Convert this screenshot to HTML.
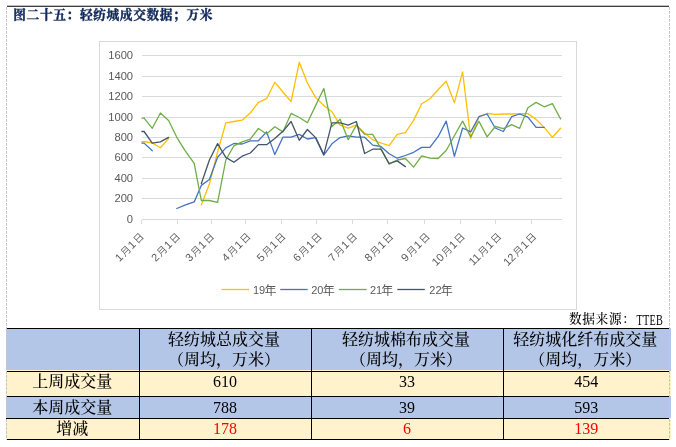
<!DOCTYPE html>
<html lang="zh-CN"><head><meta charset="utf-8"><title>图二十五：轻纺城成交数据；万米</title>
<style>
html,body{margin:0;padding:0;background:#fff;}
body{width:676px;height:447px;position:relative;overflow:hidden;font-family:"Liberation Serif","Noto Serif CJK SC",serif;}
.abs{position:absolute;}
#ldash{left:6px;top:7px;width:1px;height:433px;z-index:5;background:repeating-linear-gradient(to bottom,#c6c6c6 0,#c6c6c6 3px,transparent 3px,transparent 4px);}
#rdash{left:669px;top:7px;width:1px;height:433px;z-index:5;background:repeating-linear-gradient(to bottom,#c6c6c6 0,#c6c6c6 3px,transparent 3px,transparent 4px);}
#rfill{left:668px;top:328px;width:3px;height:112px;background:linear-gradient(to bottom,#B4C6E7 0,#B4C6E7 43px,#FFF2CC 43px,#FFF2CC 68px,#B4C6E7 68px,#B4C6E7 90px,#FFF2CC 90px,#FFF2CC 112px);}
#title{left:13.3px;top:5.5px;font-size:12.7px;letter-spacing:0.63px;line-height:18px;font-weight:bold;color:#10295a;-webkit-text-stroke:0.4px #10295a;white-space:nowrap;font-family:"Liberation Serif","Noto Serif CJK SC",serif;}
#src{right:13px;top:310.8px;font-size:12.7px;letter-spacing:0.63px;line-height:18px;color:#000;white-space:nowrap;font-family:"Liberation Mono","Noto Serif CJK SC",serif;font-weight:500;}
#src .lt{display:inline-block;position:relative;top:2.5px;font-family:"Liberation Serif",serif;font-weight:400;font-size:15.5px;line-height:14px;transform:scaleX(0.66);transform-origin:100% 50%;margin-left:-12.5px;letter-spacing:0.3px;}
svg{position:absolute;left:0;top:0;}
svg text{font-family:"Liberation Sans","Noto Sans CJK SC",sans-serif;font-size:11.2px;fill:#595959;}
.xl .d{font-size:11px;} .xl .c{font-size:10px;font-weight:350;}
.lg text{font-size:11px;} .lg .c{font-size:12px;}
table{position:absolute;left:6px;top:328px;border-collapse:collapse;table-layout:fixed;width:663px;font-size:16px;color:#000;}
td{padding:0;text-align:center;vertical-align:middle;border:1px solid #000;border-width:1px 1px 1px 0;line-height:20px;font-family:"Liberation Serif","Noto Serif CJK SC",serif;font-weight:500;overflow:hidden;white-space:nowrap;}
td:last-child{border-right:0;}
td:first-child{border-left:0;}
tr.b td{background:#B4C6E7;}
tr.h td{padding-right:2px;position:relative;}
tr.h td::after{content:"";position:absolute;left:0;right:0;bottom:0;height:1px;background:#FFF2CC;}
tr.c td{background:#FFF2CC;}
tr.r td.n{color:#FF0000;}
tr.r1 td{padding-bottom:4px;}
td.n{font-family:"Liberation Serif","Noto Serif CJK SC",serif;font-size:16px;}
</style></head><body>
<div class="abs" id="rfill"></div><div class="abs" id="ldash"></div><div class="abs" id="rdash"></div>
<div class="abs" id="title">图二十五：轻纺城成交数据；万米</div>
<svg width="676" height="447" viewBox="0 0 676 447">
<line x1="7" x2="669" y1="6.25" y2="6.25" stroke="#000" stroke-width="1"/>
<rect x="99.5" y="41.5" width="477" height="268" fill="#fff" stroke="#D9D9D9" stroke-width="1"/>
<g stroke="#D9D9D9" stroke-width="1" shape-rendering="crispEdges">
<line x1="142" x2="562" y1="55.5" y2="55.5"/>
<line x1="142" x2="562" y1="76.5" y2="76.5"/>
<line x1="142" x2="562" y1="96.5" y2="96.5"/>
<line x1="142" x2="562" y1="117.5" y2="117.5"/>
<line x1="142" x2="562" y1="137.5" y2="137.5"/>
<line x1="142" x2="562" y1="157.5" y2="157.5"/>
<line x1="142" x2="562" y1="178.5" y2="178.5"/>
<line x1="142" x2="562" y1="198.5" y2="198.5"/>
<line x1="141.5" x2="562" y1="219.5" y2="219.5"/>
<line x1="141.5" x2="141.5" y1="219.5" y2="224"/>
<line x1="177.5" x2="177.5" y1="219.5" y2="224"/>
<line x1="211.5" x2="211.5" y1="219.5" y2="224"/>
<line x1="245.5" x2="245.5" y1="219.5" y2="224"/>
<line x1="281.5" x2="281.5" y1="219.5" y2="224"/>
<line x1="316.5" x2="316.5" y1="219.5" y2="224"/>
<line x1="352.5" x2="352.5" y1="219.5" y2="224"/>
<line x1="387.5" x2="387.5" y1="219.5" y2="224"/>
<line x1="424.5" x2="424.5" y1="219.5" y2="224"/>
<line x1="460.5" x2="460.5" y1="219.5" y2="224"/>
<line x1="495.5" x2="495.5" y1="219.5" y2="224"/>
<line x1="531.5" x2="531.5" y1="219.5" y2="224"/>
</g>
<g><text x="133.1" y="58.8" text-anchor="end">1600</text>
<text x="133.1" y="79.8" text-anchor="end">1400</text>
<text x="133.1" y="99.8" text-anchor="end">1200</text>
<text x="133.1" y="120.8" text-anchor="end">1000</text>
<text x="133.1" y="140.8" text-anchor="end">800</text>
<text x="133.1" y="160.8" text-anchor="end">600</text>
<text x="133.1" y="181.8" text-anchor="end">400</text>
<text x="133.1" y="201.8" text-anchor="end">200</text>
<text x="133.1" y="222.8" text-anchor="end">0</text></g>
<g class="xl"><text transform="translate(144.0,237.7) rotate(-45)" text-anchor="end"><tspan class="d" dx="0.8">1</tspan><tspan class="c" dx="1.2">月</tspan><tspan class="d" dx="0.8">1</tspan><tspan class="c" dx="1.2">日</tspan></text>
<text transform="translate(180.3,237.7) rotate(-45)" text-anchor="end"><tspan class="d" dx="0.8">2</tspan><tspan class="c" dx="1.2">月</tspan><tspan class="d" dx="0.8">1</tspan><tspan class="c" dx="1.2">日</tspan></text>
<text transform="translate(214.3,237.7) rotate(-45)" text-anchor="end"><tspan class="d" dx="0.8">3</tspan><tspan class="c" dx="1.2">月</tspan><tspan class="d" dx="0.8">1</tspan><tspan class="c" dx="1.2">日</tspan></text>
<text transform="translate(250.7,237.7) rotate(-45)" text-anchor="end"><tspan class="d" dx="0.8">4</tspan><tspan class="c" dx="1.2">月</tspan><tspan class="d" dx="0.8">1</tspan><tspan class="c" dx="1.2">日</tspan></text>
<text transform="translate(285.8,237.7) rotate(-45)" text-anchor="end"><tspan class="d" dx="0.8">5</tspan><tspan class="c" dx="1.2">月</tspan><tspan class="d" dx="0.8">1</tspan><tspan class="c" dx="1.2">日</tspan></text>
<text transform="translate(322.1,237.7) rotate(-45)" text-anchor="end"><tspan class="d" dx="0.8">6</tspan><tspan class="c" dx="1.2">月</tspan><tspan class="d" dx="0.8">1</tspan><tspan class="c" dx="1.2">日</tspan></text>
<text transform="translate(357.3,237.7) rotate(-45)" text-anchor="end"><tspan class="d" dx="0.8">7</tspan><tspan class="c" dx="1.2">月</tspan><tspan class="d" dx="0.8">1</tspan><tspan class="c" dx="1.2">日</tspan></text>
<text transform="translate(393.6,237.7) rotate(-45)" text-anchor="end"><tspan class="d" dx="0.8">8</tspan><tspan class="c" dx="1.2">月</tspan><tspan class="d" dx="0.8">1</tspan><tspan class="c" dx="1.2">日</tspan></text>
<text transform="translate(430.0,237.7) rotate(-45)" text-anchor="end"><tspan class="d" dx="0.8">9</tspan><tspan class="c" dx="1.2">月</tspan><tspan class="d" dx="0.8">1</tspan><tspan class="c" dx="1.2">日</tspan></text>
<text transform="translate(465.1,237.7) rotate(-45)" text-anchor="end"><tspan class="d" dx="0.8">10</tspan><tspan class="c" dx="1.2">月</tspan><tspan class="d" dx="0.8">1</tspan><tspan class="c" dx="1.2">日</tspan></text>
<text transform="translate(501.5,237.7) rotate(-45)" text-anchor="end"><tspan class="d" dx="0.8">11</tspan><tspan class="c" dx="1.2">月</tspan><tspan class="d" dx="0.8">1</tspan><tspan class="c" dx="1.2">日</tspan></text>
<text transform="translate(536.6,237.7) rotate(-45)" text-anchor="end"><tspan class="d" dx="0.8">12</tspan><tspan class="c" dx="1.2">月</tspan><tspan class="d" dx="0.8">1</tspan><tspan class="c" dx="1.2">日</tspan></text></g>
<g fill="none" stroke-width="1.3" stroke-linejoin="round" stroke-linecap="round">
<polyline points="141.9,141.9 144.1,141.5 152.3,143.0 160.4,147.8 168.6,138.6" stroke="#FFC000"/>
<polyline points="201.3,205.1 209.4,184.0 217.6,152.0 225.8,122.9 233.9,121.5 242.1,120.2 250.3,113.0 258.4,102.4 266.6,98.7 274.8,82.2 282.9,92.0 291.1,101.5 299.3,62.2 307.4,83.1 315.6,97.4 323.8,105.5 331.9,111.7 340.1,125.2 348.2,128.2 356.4,125.2 364.6,133.1 372.7,139.7 380.9,143.0 389.1,145.6 397.2,134.4 405.4,132.6 413.6,120.4 421.7,103.7 429.9,98.7 438.1,89.7 446.2,81.3 454.4,102.8 462.6,71.8 470.7,138.3 478.9,116.7 487.1,113.5 495.2,114.4 503.4,114.0 511.6,114.0 519.7,113.6 527.9,113.6 536.1,119.4 544.2,127.4 552.4,137.3 560.6,128.3" stroke="#FFC000"/>
<polyline points="141.9,143.1 144.1,143.1 152.3,150.8" stroke="#4472C4"/>
<polyline points="176.8,208.5 184.9,205.2 194.2,201.9 201.3,185.4 209.4,179.5 217.6,157.3 225.8,147.9 233.9,143.5 242.1,144.0 250.3,140.8 258.4,140.8 266.6,131.9 274.8,154.6 282.9,137.2 291.1,137.2 299.3,134.4 307.4,139.0 315.6,137.6 323.8,155.1 331.9,143.8 340.1,137.6 348.2,135.8 356.4,137.2 364.6,137.2 372.7,145.1 380.9,146.5 389.1,153.7 397.2,158.2 405.4,155.5 413.6,152.3 421.7,147.4 429.9,147.4 438.1,136.7 446.2,121.1 454.4,156.4 462.6,128.0 470.7,131.9 478.9,116.7 487.1,114.0 495.2,128.0 503.4,131.5 511.6,116.7 519.7,114.0 527.9,117.2 536.1,127.4 544.2,127.4" stroke="#4472C4"/>
<polyline points="141.9,118.1 144.1,118.1 152.3,128.3 160.4,113.0 168.6,120.5 176.8,137.3 184.9,150.3 194.2,163.3 201.3,200.5 209.4,200.5 217.6,202.3 225.8,160.0 233.9,145.8 242.1,141.9 250.3,139.1 258.4,128.5 266.6,134.0 274.8,126.8 282.9,131.9 291.1,113.4 299.3,117.5 307.4,122.7 315.6,105.6 323.8,88.5 331.9,126.5 340.1,119.3 348.2,139.7 356.4,125.1 364.6,134.2 372.7,134.4 380.9,148.3 389.1,164.1 397.2,160.0 405.4,158.5 413.6,167.1 421.7,155.8 429.9,158.2 438.1,158.5 446.2,150.5 454.4,135.8 462.6,121.1 470.7,137.0 478.9,121.3 487.1,136.9 495.2,126.5 503.4,128.7 511.6,124.7 519.7,128.3 527.9,107.7 536.1,102.4 544.2,106.8 552.4,103.6 560.6,119.0" stroke="#70AD47"/>
<polyline points="141.9,131.5 144.1,131.5 152.3,143.1 160.4,141.9 168.6,137.4" stroke="#44546A"/>
<polyline points="201.3,183.7 209.4,160.0 217.6,143.6 225.8,157.4 233.9,162.3 242.1,156.2 250.3,153.0 258.4,144.6 266.6,144.7 274.8,138.5 282.9,131.3 291.1,121.5 299.3,140.3 307.4,129.5 315.6,137.6 323.8,154.6 331.9,122.9 340.1,122.9 348.2,125.1 356.4,121.5 364.6,153.5 372.7,149.2 380.9,149.2 389.1,163.5 397.2,160.9 405.4,166.6" stroke="#44546A"/>
</g>
<g class="lg"><line x1="221.5" x2="249" y1="289.5" y2="289.5" stroke="#FFC000" stroke-width="1.3"/><text x="253.0" y="294.2">19<tspan class="c" dx="-0.8" dy="0.9">年</tspan></text>
<line x1="280.2" x2="307.7" y1="289.5" y2="289.5" stroke="#4472C4" stroke-width="1.3"/><text x="311.2" y="294.2">20<tspan class="c" dx="-0.8" dy="0.9">年</tspan></text>
<line x1="338.8" x2="366.7" y1="289.5" y2="289.5" stroke="#70AD47" stroke-width="1.3"/><text x="369.9" y="294.2">21<tspan class="c" dx="-0.8" dy="0.9">年</tspan></text>
<line x1="397.3" x2="424.8" y1="289.5" y2="289.5" stroke="#44546A" stroke-width="1.3"/><text x="429.3" y="294.2">22<tspan class="c" dx="-0.8" dy="0.9">年</tspan></text></g>
</svg>
<div class="abs" id="src">数据来源：<span class="lt">TTEB</span></div>
<table>
<colgroup><col style="width:133px"><col style="width:172px"><col style="width:192px"><col style="width:166px"></colgroup>
<tr class="b h" style="height:43px"><td></td><td>轻纺城总成交量<br>（周均，万米）</td><td>轻纺城棉布成交量<br>（周均，万米）</td><td>轻纺城化纤布成交量<br>（周均，万米）</td></tr>
<tr class="c r1" style="height:25px"><td>上周成交量</td><td class="n">610</td><td class="n">33</td><td class="n">454</td></tr>
<tr class="b" style="height:22px"><td>本周成交量</td><td class="n">788</td><td class="n">39</td><td class="n">593</td></tr>
<tr class="c r" style="height:21px"><td>增减</td><td class="n">178</td><td class="n">6</td><td class="n">139</td></tr>
</table>
</body></html>
